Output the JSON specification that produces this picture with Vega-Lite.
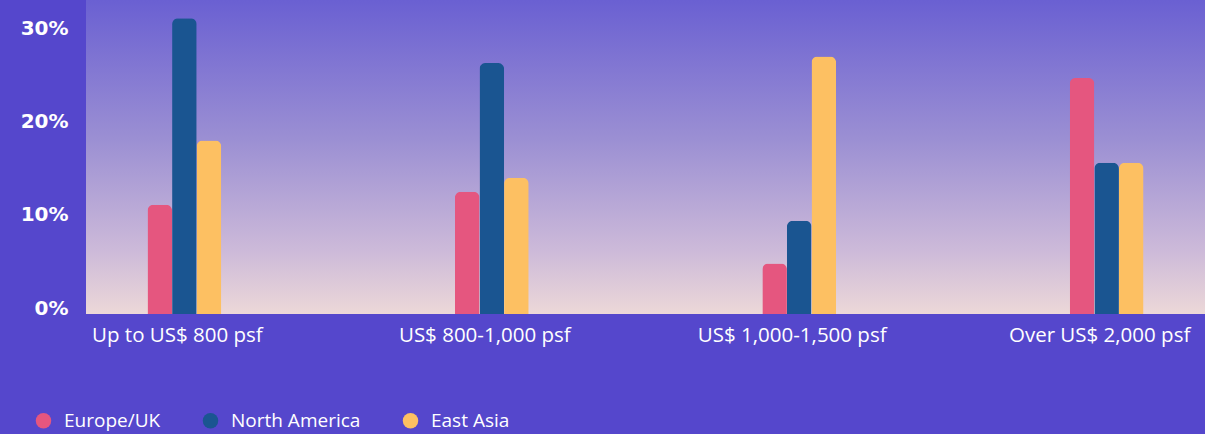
{
  "$schema": "https://vega.github.io/schema/vega-lite/v6.json",
  "autosize": {"type": "none"},
  "padding": {"left": 86, "top": 0, "right": 0, "bottom": 120},
  "width": 1119,
  "height": 314,
  "background": "#5547cc",
  "config": {"view": {"stroke": null}},
  "layer": [
    {
      "data": {"values": [{"band": "bg"}]},
      "mark": {
        "type": "rect",
        "color": {
          "gradient": "linear",
          "x1": 0, "y1": 0, "x2": 0, "y2": 1,
          "stops": [
            {"offset": 0, "color": "#6a60d2"},
            {"offset": 0.45, "color": "#9c90d3"},
            {"offset": 0.8, "color": "#cdbad9"},
            {"offset": 1, "color": "#ecd8d8"}
          ]
        }
      },
      "encoding": {
        "y": {"datum": 0, "type": "quantitative", "scale": {"domain": [0, 0.3365], "nice": false, "zero": true}},
        "y2": {"datum": 0.3365}
      }
    },
    {
      "data": {
        "values": [
          {"range": "Up to US$ 800 psf", "region": "Europe/UK", "share": 0.117},
          {"range": "Up to US$ 800 psf", "region": "North America", "share": 0.317},
          {"range": "Up to US$ 800 psf", "region": "East Asia", "share": 0.186},
          {"range": "US$ 800-1,000 psf", "region": "Europe/UK", "share": 0.131},
          {"range": "US$ 800-1,000 psf", "region": "North America", "share": 0.269},
          {"range": "US$ 800-1,000 psf", "region": "East Asia", "share": 0.146},
          {"range": "US$ 1,000-1,500 psf", "region": "Europe/UK", "share": 0.054},
          {"range": "US$ 1,000-1,500 psf", "region": "North America", "share": 0.100},
          {"range": "US$ 1,000-1,500 psf", "region": "East Asia", "share": 0.276},
          {"range": "Over US$ 2,000 psf", "region": "Europe/UK", "share": 0.253},
          {"range": "Over US$ 2,000 psf", "region": "North America", "share": 0.162},
          {"range": "Over US$ 2,000 psf", "region": "East Asia", "share": 0.162}
        ]
      },
      "mark": {"type": "bar", "cornerRadiusTopLeft": 6, "cornerRadiusTopRight": 6},
      "encoding": {
        "x": {
          "field": "range",
          "type": "nominal",
          "sort": null,
          "scale": {"paddingInner": 0.76, "paddingOuter": 0.2},
          "axis": {
            "title": null,
            "domain": false,
            "ticks": false,
            "labelAngle": 0,
            "labelColor": "#ffffff",
            "labelFont": "Open Sans",
            "labelFontSize": 20.5,
            "labelPadding": 11,
            "labelOffset": -7,
            "labelLimit": 0,
            "labelOverlap": false
          }
        },
        "xOffset": {"field": "region", "type": "nominal", "sort": ["Europe/UK", "North America", "East Asia"], "scale": {"paddingInner": 0, "paddingOuter": 0}},
        "y": {
          "field": "share",
          "type": "quantitative",
          "scale": {"domain": [0, 0.3365], "nice": false},
          "axis": {
            "title": null,
            "domain": false,
            "ticks": false,
            "grid": false,
            "values": [0, 0.1, 0.2, 0.3],
            "format": ".0%",
            "labelColor": "#ffffff",
            "labelFont": "DejaVu Sans",
            "labelFontWeight": "bold",
            "labelFontSize": 20,
            "labelBaseline": "alphabetic",
            "labelPadding": 18
          }
        },
        "color": {
          "field": "region",
          "type": "nominal",
          "sort": ["Europe/UK", "North America", "East Asia"],
          "scale": {"domain": ["Europe/UK", "North America", "East Asia"], "range": ["#e5567f", "#1a5591", "#fdc062"]},
          "legend": {
            "title": null,
            "orient": "none",
            "direction": "horizontal",
            "legendX": -52,
            "legendY": 411,
            "symbolType": "circle",
            "symbolSize": 240,
            "symbolStrokeWidth": 0,
            "symbolOpacity": 1,
            "labelColor": "#ffffff",
            "labelFont": "Open Sans",
            "labelFontSize": 19,
            "labelOffset": 11,
            "columnPadding": 40
          }
        }
      }
    }
  ]
}
